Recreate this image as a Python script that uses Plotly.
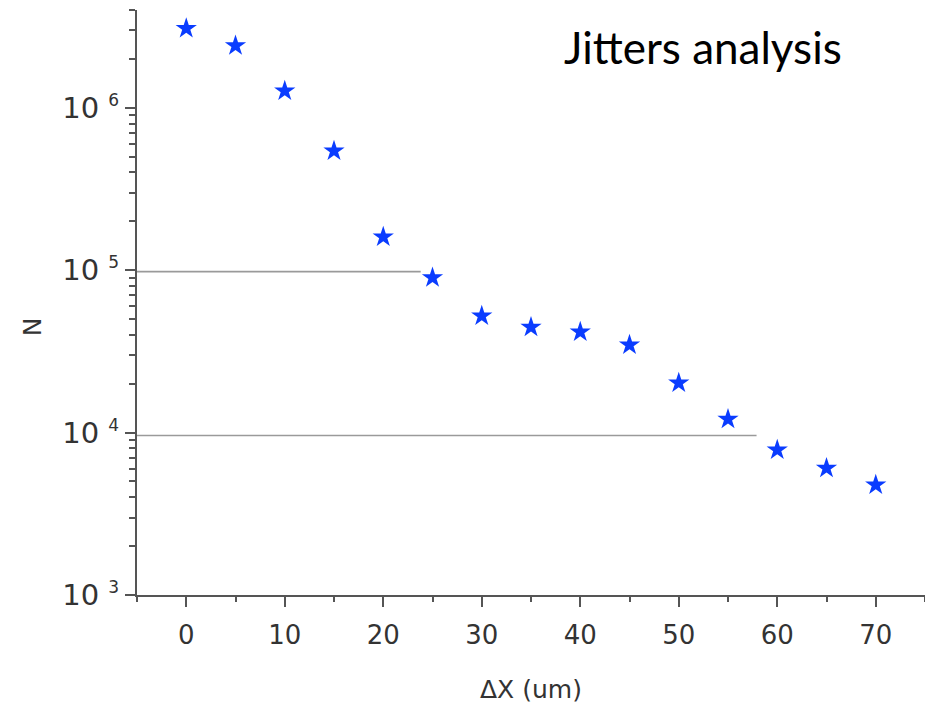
import plotly.graph_objects as go

dx = [0, 5, 10, 15, 20, 25, 30, 35, 40, 45, 50, 55, 60, 65, 70]
n_counts = [3.08e6, 2.41e6, 1.27e6, 5.42e5, 1.60e5, 8.99e4, 5.22e4, 4.45e4,
            4.16e4, 3.46e4, 2.02e4, 1.21e4, 7.81e3, 6.03e3, 4.76e3]

ref_line_x = [[-5, 23.8], [-5, 57.9]]
ref_line_y = [[9.8e4, 9.8e4], [9.6e3, 9.6e3]]

x_ticks = [0, 10, 20, 30, 40, 50, 60, 70]
y_ticks = [1e3, 1e4, 1e5, 1e6]
y_exponents = ["3", "4", "5", "6"]
y_tick_text = ["10 <sup><span style='font-size:17px'>%s</span></sup>" % e for e in y_exponents]

fig = go.Figure()
for lx, ly in zip(ref_line_x, ref_line_y):
    fig.add_trace(go.Scatter(x=lx, y=ly, mode="lines",
                             line=dict(color="#9a9a9a", width=1.6),
                             showlegend=False, hoverinfo="skip"))

fig.add_trace(go.Scatter(x=dx, y=n_counts, mode="markers",
                         marker=dict(symbol="star", size=16, color="#0a3cff",
                                     line=dict(width=0)),
                         showlegend=False))

tickfont = dict(family="DejaVu Sans", size=26, color="#333333")
ytickfont = dict(family="DejaVu Sans", size=29, color="#333333")
fig.update_layout(
    width=925, height=710,
    margin=dict(l=137, r=0, t=10, b=115),
    paper_bgcolor="white", plot_bgcolor="white",
    xaxis=dict(range=[-5, 75], tickvals=x_ticks, ticks="outside", ticklen=10,
               tickwidth=2, tickcolor="#555555", showline=True, linecolor="#555555",
               linewidth=2, showgrid=False, zeroline=False, tickfont=tickfont,
               ticklabelstandoff=6,
               minor=dict(dtick=5, tick0=0, ticks="outside", ticklen=5,
                          tickwidth=2, tickcolor="#555555", showgrid=False)),
    yaxis=dict(type="log", range=[3, 6.60206], tickvals=y_ticks, ticktext=y_tick_text,
               ticks="outside", ticklen=10,
               tickwidth=2, tickcolor="#555555", showline=True, linecolor="#555555",
               linewidth=2, showgrid=False, zeroline=False, tickfont=ytickfont,
               ticklabelstandoff=0,
               minor=dict(dtick="D1", ticks="outside", ticklen=6,
                          tickwidth=2, tickcolor="#555555", showgrid=False)),
    annotations=[
        dict(text="ΔX (um)", xref="paper", yref="paper", x=0.5, y=-0.162,
             xanchor="center", yanchor="middle", showarrow=False,
             font=dict(family="DejaVu Sans", size=25, color="#333333")),
        dict(text="N", xref="paper", yref="paper", x=-0.133, y=0.458,
             xanchor="center", yanchor="middle", showarrow=False, textangle=-90,
             font=dict(family="DejaVu Sans", size=25, color="#333333")),
        dict(text="Jitters analysis", xref="paper", yref="paper", x=0.718, y=0.937,
             xanchor="center", yanchor="middle", showarrow=False,
             font=dict(family="Lato", size=44, color="#000000")),
    ],
)

fig.write_html("out.html")
